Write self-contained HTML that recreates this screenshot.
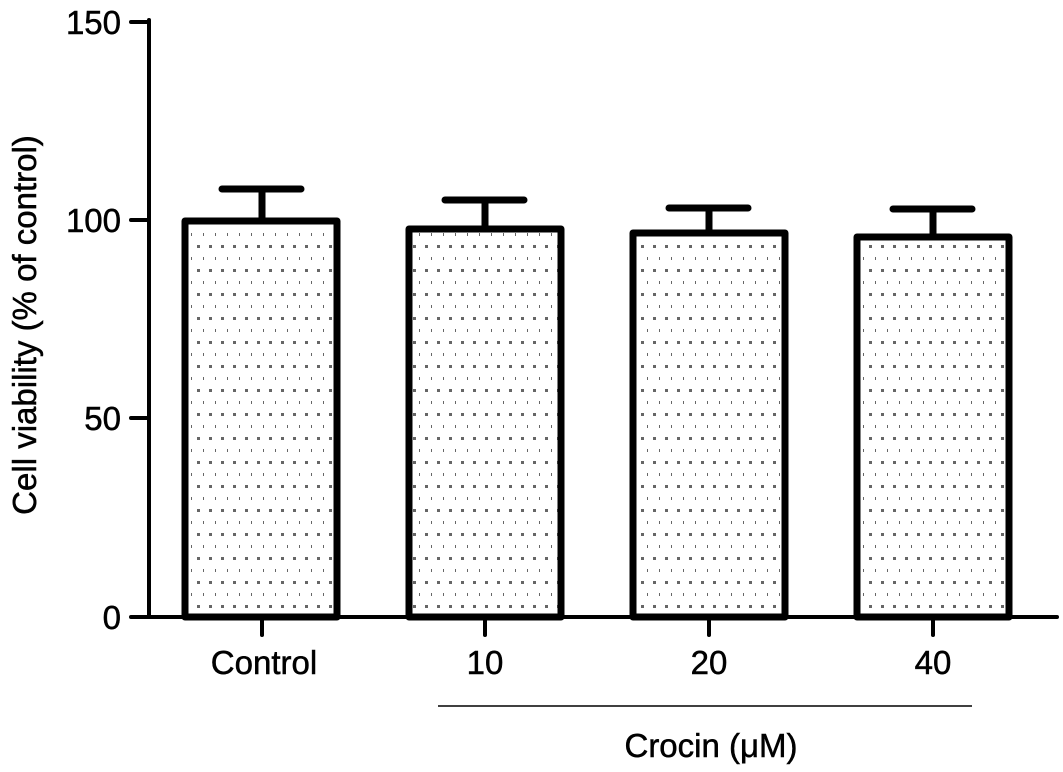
<!DOCTYPE html>
<html><head><style>body{margin:0;background:#fff}svg{display:block}</style></head><body>
<svg width="1063" height="772" viewBox="0 0 1063 772" xmlns="http://www.w3.org/2000/svg" font-family="Liberation Sans, Arial, sans-serif">
<defs>
<pattern id="dots" width="12" height="24" patternUnits="userSpaceOnUse">
<rect x="5" y="5" width="3" height="3" fill="#666"/>
<rect x="11" y="17" width="3" height="3" fill="#666"/>
</pattern>
</defs>
<g stroke="#000" stroke-width="7" stroke-linecap="round">
<line x1="262" y1="221" x2="262" y2="189"/><line x1="222" y1="189" x2="301" y2="189"/>
<line x1="485" y1="229" x2="485" y2="200"/><line x1="445" y1="200" x2="524" y2="200"/>
<line x1="709" y1="233" x2="709" y2="208"/><line x1="669" y1="208" x2="748" y2="208"/>
<line x1="933" y1="237" x2="933" y2="209"/><line x1="893" y1="209" x2="972" y2="209"/>
</g>
<g fill="url(#dots)" stroke="#000" stroke-width="7" stroke-linejoin="round">
<rect x="185" y="221" width="152" height="396"/>
<rect x="409" y="229" width="152" height="388"/>
<rect x="633" y="233" width="152" height="384"/>
<rect x="857" y="237" width="152" height="380"/>
</g>
<g stroke="#000" stroke-width="4" stroke-linecap="round">
<line x1="149" y1="20" x2="149" y2="617"/>
<line x1="149" y1="617" x2="1057" y2="617"/>
<line x1="131" y1="22" x2="149" y2="22"/>
<line x1="131" y1="220" x2="149" y2="220"/>
<line x1="131" y1="418" x2="149" y2="418"/>
<line x1="131" y1="617" x2="149" y2="617"/>
<line x1="262" y1="617" x2="262" y2="635"/>
<line x1="485" y1="617" x2="485" y2="635"/>
<line x1="709" y1="617" x2="709" y2="635"/>
<line x1="933" y1="617" x2="933" y2="635"/>
</g>
<line x1="438" y1="706" x2="972" y2="706" stroke="#000" stroke-width="1.5"/>
<g font-size="33" fill="#000" stroke="#000" stroke-width="0.5" text-anchor="end">
<text x="121" y="34">150</text>
<text x="121" y="232">100</text>
<text x="121" y="430">50</text>
<text x="121" y="629">0</text>
</g>
<g font-size="33" fill="#000" stroke="#000" stroke-width="0.5" text-anchor="middle">
<text x="264" y="674">Control</text>
<text x="485" y="674">10</text>
<text x="709" y="674">20</text>
<text x="933" y="674">40</text>
<text x="711" y="757">Crocin (μM)</text>
<text transform="translate(36,325) rotate(-90)">Cell viability (% of control)</text>
</g>
</svg>
</body></html>
